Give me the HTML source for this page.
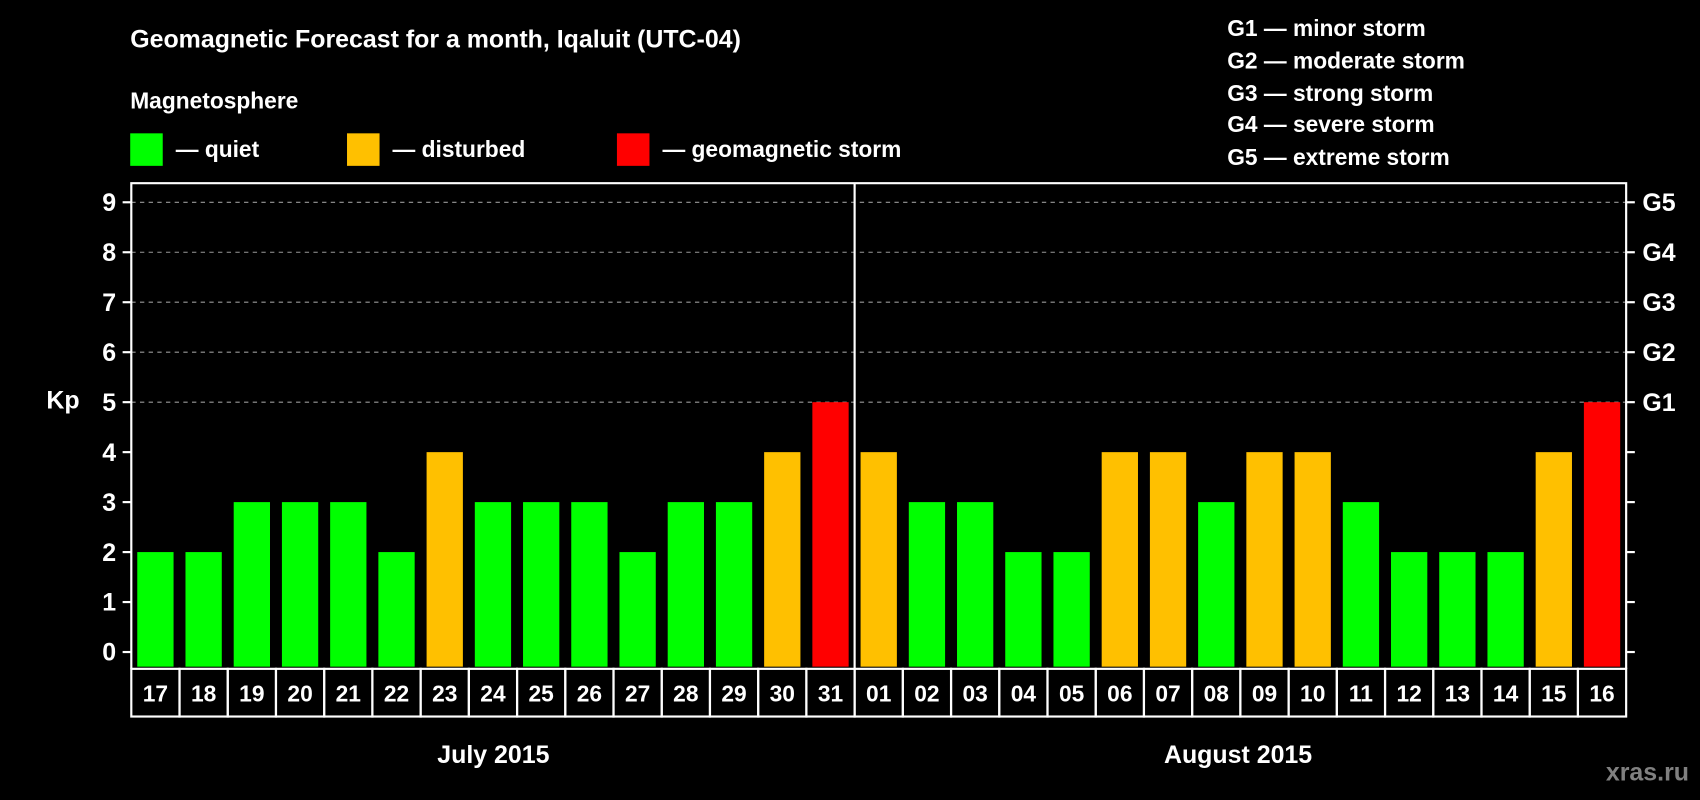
<!DOCTYPE html>
<html><head><meta charset="utf-8"><style>
html,body{margin:0;padding:0;background:#000;}
svg{display:block;font-family:"Liberation Sans",Arial,sans-serif;font-weight:bold;}
</style></head><body>
<svg id="chart" width="1700" height="800" viewBox="0 0 1568 738" xmlns="http://www.w3.org/2000/svg">
<rect width="1568" height="738" fill="#000"/>
<text x="120" y="44" fill="#fff" font-size="23">Geomagnetic Forecast for a month, Iqaluit (UTC-04)</text>
<text x="120" y="100" fill="#fff" font-size="21">Magnetosphere</text>
<g><rect x="120" y="123" width="30" height="30" fill="#00ff00"/><text x="162" y="145" fill="#fff" font-size="21">— quiet</text></g>
<g><rect x="320" y="123" width="30" height="30" fill="#ffc000"/><text x="362" y="145" fill="#fff" font-size="21">— disturbed</text></g>
<g><rect x="569" y="123" width="30" height="30" fill="#ff0000"/><text x="611" y="145" fill="#fff" font-size="21">— geomagnetic storm</text></g>
<g fill="#fff" font-size="21">
<text x="1132" y="33">G1 — minor storm</text>
<text x="1132" y="63">G2 — moderate storm</text>
<text x="1132" y="93">G3 — strong storm</text>
<text x="1132" y="122">G4 — severe storm</text>
<text x="1132" y="152">G5 — extreme storm</text>
</g>
<g id="plot"></g>
<text x="58" y="377" fill="#fff" font-size="23" text-anchor="middle">Kp</text>
<text x="455" y="704" fill="#fff" font-size="23" text-anchor="middle">July 2015</text>
<text x="1142" y="704" fill="#fff" font-size="23" text-anchor="middle">August 2015</text>
<text x="1558" y="720" fill="#808080" font-size="23" text-anchor="end">xras.ru</text>
</svg>
<script>
const days = ["17","18","19","20","21","22","23","24","25","26","27","28","29","30","31","01","02","03","04","05","06","07","08","09","10","11","12","13","14","15","16"];
const kp = [2,2,3,3,3,2,4,3,3,3,2,3,3,4,5,4,3,3,2,2,4,4,3,4,4,3,2,2,2,4,5];
const yTicks = [0,1,2,3,4,5,6,7,8,9];
const gLabels = ["G1","G2","G3","G4","G5"];
const NS="http://www.w3.org/2000/svg";
const L=121,R=1500,T=169,B=617;
const step=(R-L)/days.length;
function xs(i){return L+i*step;}
function ys(v){return 601.5-v*46.1;}
function color(v){return v>=5?"#ff0000":(v>=4?"#ffc000":"#00ff00");}
const g=document.getElementById("plot");
function mk(tag,attrs){const e=document.createElementNS(NS,tag);for(const k in attrs)e.setAttribute(k,attrs[k]);g.appendChild(e);return e;}
// gridlines at 5..9
yTicks.forEach(v=>{
  if(v>=5){const ln=mk("line",{x1:L,x2:R,y1:ys(v),y2:ys(v),stroke:"#999","stroke-dasharray":"4,4","stroke-width":1});
  
  }
});
kp.forEach((v,i)=>{
  const r=mk("rect",{x:xs(i)+5.5,y:ys(v),width:step-11,height:B-2-ys(v),fill:color(v)});
  
  
  const c=mk("rect",{x:xs(i),y:B,width:step,height:44,fill:"none",stroke:"#fff","stroke-width":2});
  
  
  const t=mk("text",{x:xs(i)+step/2,y:B+30,fill:"#fff","font-size":21,"text-anchor":"middle"});
  t.textContent=days[i];
  
  
});
yTicks.forEach(v=>{
  const tk=mk("line",{x1:L-8,x2:L,y1:ys(v),y2:ys(v),stroke:"#fff","stroke-width":2});
  
  
  const tk2=mk("line",{x1:R,x2:R+8,y1:ys(v),y2:ys(v),stroke:"#fff","stroke-width":2});
  
  
  const t=mk("text",{x:L-14,y:ys(v)+8,fill:"#fff","font-size":23,"text-anchor":"end"});
  t.textContent=v;
  
  
});
gLabels.forEach((s,i)=>{
  const t=mk("text",{x:R+15,y:ys(5+i)+8,fill:"#fff","font-size":23});
  t.textContent=s;
  
  
});
const axis=mk("path",{d:`M${L},${B} V${T} H${R} V${B}`,fill:"none",stroke:"#fff","stroke-width":2});


const split=days.indexOf("01");
const dv=mk("line",{x1:xs(split),x2:xs(split),y1:T,y2:B,stroke:"#fff","stroke-width":2});


</script>
</body></html>
